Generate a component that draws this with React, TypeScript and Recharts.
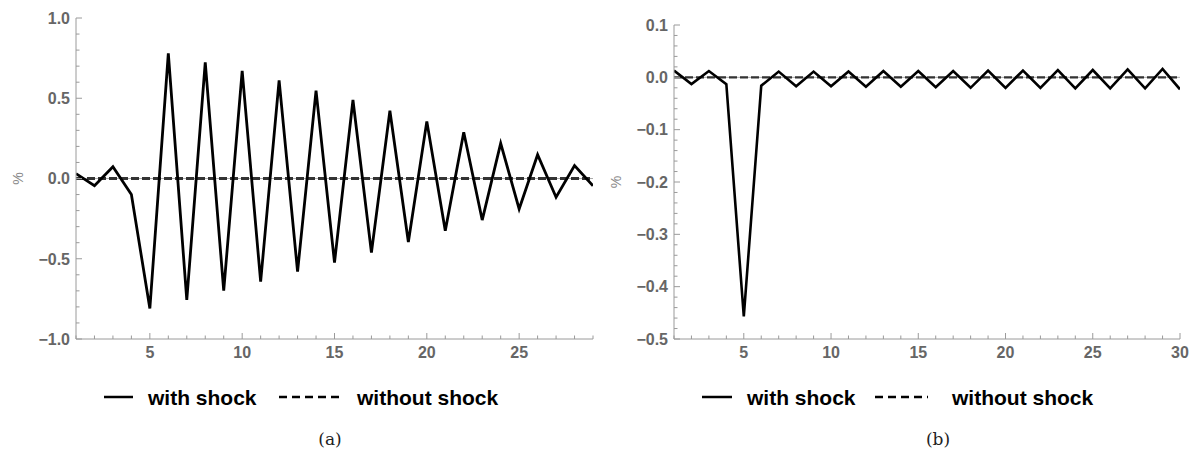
import React from 'react';
import { LineChart, Line, XAxis, YAxis, ReferenceLine } from 'recharts';

// ---- panel (a) ----
const periodsA = [1, 2, 3, 4, 5, 6, 7, 8, 9, 10, 11, 12, 13, 14, 15, 16, 17, 18, 19, 20, 21, 22, 23, 24, 25, 26, 27, 28, 29];
const withShockA = [
  0.03, -0.045, 0.073, -0.1, -0.81, 0.78, -0.757, 0.724, -0.699, 0.67, -0.643, 0.612, -0.58, 0.547, -0.524,
  0.489, -0.462, 0.422, -0.396, 0.356, -0.325, 0.288, -0.259, 0.219, -0.19, 0.148, -0.117, 0.08, -0.045,
];
const withoutShockA = [0, 0, 0, 0, 0, 0, 0, 0, 0, 0, 0, 0, 0, 0, 0, 0, 0, 0, 0, 0, 0, 0, 0, 0, 0, 0, 0, 0, 0];
const xTicksA = [1, 2, 3, 4, 5, 6, 7, 8, 9, 10, 11, 12, 13, 14, 15, 16, 17, 18, 19, 20, 21, 22, 23, 24, 25, 26, 27, 28, 29];
const xMajorA = [5, 10, 15, 20, 25];
const yTicksA = [-1, -0.9, -0.8, -0.7, -0.6, -0.5, -0.4, -0.3, -0.2, -0.1, 0, 0.1, 0.2, 0.3, 0.4, 0.5, 0.6, 0.7, 0.8, 0.9, 1];
const yMajorA = [-1, -0.5, 0, 0.5, 1];

// ---- panel (b) ----
const periodsB = [1, 2, 3, 4, 5, 6, 7, 8, 9, 10, 11, 12, 13, 14, 15, 16, 17, 18, 19, 20, 21, 22, 23, 24, 25, 26, 27, 28, 29, 30];
const withShockB = [
  0.013, -0.013, 0.012, -0.013, -0.457, -0.016, 0.011, -0.017, 0.011, -0.017, 0.011, -0.018, 0.012, -0.018, 0.012,
  -0.019, 0.012, -0.02, 0.013, -0.02, 0.013, -0.02, 0.014, -0.021, 0.014, -0.021, 0.015, -0.021, 0.016, -0.023,
];
const withoutShockB = [0, 0, 0, 0, 0, 0, 0, 0, 0, 0, 0, 0, 0, 0, 0, 0, 0, 0, 0, 0, 0, 0, 0, 0, 0, 0, 0, 0, 0, 0];
const xTicksB = [1, 2, 3, 4, 5, 6, 7, 8, 9, 10, 11, 12, 13, 14, 15, 16, 17, 18, 19, 20, 21, 22, 23, 24, 25, 26, 27, 28, 29, 30];
const xMajorB = [5, 10, 15, 20, 25, 30];
const yTicksB = [
  -0.5, -0.48, -0.46, -0.44, -0.42, -0.4, -0.38, -0.36, -0.34, -0.32, -0.3, -0.28, -0.26, -0.24, -0.22, -0.2,
  -0.18, -0.16, -0.14, -0.12, -0.1, -0.08, -0.06, -0.04, -0.02, 0, 0.02, 0.04, 0.06, 0.08, 0.1,
];
const yMajorB = [-0.5, -0.4, -0.3, -0.2, -0.1, 0, 0.1];

const FRAME = '#9a9a9a';
const LABEL = '#666';
const SANS = '"Liberation Sans", Arial, sans-serif';

const fmtY = (v: number) => {
  const s = Math.abs(v) < 1e-9 ? '0.0' : v.toFixed(1);
  return s.replace('-', '\u2212');
};
const fmtX = (v: number) => String(v);

type Side = 'left' | 'right' | 'top' | 'bottom';

// Mathematica-style ticks: drawn inward, labels only on major ones (left/bottom)
function makeTick(side: Side, majors: number[], fmt?: (v: number) => string) {
  return (props: any) => {
    const { x, y, payload } = props;
    const v = payload.value as number;
    const isMajor = majors.some((m) => Math.abs(m - v) < 1e-9);
    const len = isMajor ? 6 : 3.5;
    let line;
    if (side === 'left') line = <line x1={x} x2={x + len} y1={y} y2={y} stroke={FRAME} />;
    else if (side === 'right') line = <line x1={x} x2={x - len} y1={y} y2={y} stroke={FRAME} />;
    else if (side === 'top') line = <line x1={x} x2={x} y1={y} y2={y + len} stroke={FRAME} />;
    else line = <line x1={x} x2={x} y1={y} y2={y - len} stroke={FRAME} />;
    let label = null;
    if (isMajor && fmt && side === 'left') {
      label = (
        <text x={x - 6} y={y} dy="0.36em" textAnchor="end" fontFamily={SANS} fontWeight="bold" fontSize={16} fill={LABEL}>
          {fmt(v)}
        </text>
      );
    }
    if (isMajor && fmt && side === 'bottom') {
      label = (
        <text x={x} y={y + 19} textAnchor="middle" fontFamily={SANS} fontWeight="bold" fontSize={16} fill={LABEL}>
          {fmt(v)}
        </text>
      );
    }
    return (
      <g>
        {line}
        {label}
      </g>
    );
  };
}

const percentLabel = (offset: number) => (props: any) => {
  const vb = props.viewBox || {};
  const cx = (vb.x || 0) + offset;
  const cy = (vb.y || 0) + (vb.height || 0) / 2;
  return (
    <text x={cx} y={cy} transform={`rotate(-90 ${cx} ${cy})`} textAnchor="middle" dy="0.35em" fontFamily={SANS} fontSize={14} fill="#888">
      %
    </text>
  );
};

interface PanelProps {
  periods: number[];
  withShock: number[];
  withoutShock: number[];
  xTicks: number[];
  xMajor: number[];
  yTicks: number[];
  yMajor: number[];
  xDomain: [number, number];
  yDomain: [number, number];
  width: number;
  margin: { top: number; right: number; bottom: number; left: number };
  yAxisWidth: number;
  labelOffset: number;
  dashWidth: number;
  solidWidth: number;
}

function Panel(p: PanelProps) {
  const data = p.periods.map((t, i) => ({ t, withShock: p.withShock[i], withoutShock: p.withoutShock[i] }));
  return (
    <LineChart width={p.width} height={360} data={data} margin={p.margin}>
      <XAxis
        dataKey="t"
        type="number"
        domain={p.xDomain}
        ticks={p.xTicks}
        interval={0}
        allowDataOverflow
        height={21}
        tickSize={0}
        tickMargin={0}
        tickLine={false}
        axisLine={{ stroke: FRAME }}
        tick={makeTick('bottom', p.xMajor, fmtX)}
      />
      <XAxis
        xAxisId="top"
        orientation="top"
        dataKey="t"
        type="number"
        domain={p.xDomain}
        ticks={p.xTicks}
        interval={0}
        allowDataOverflow
        height={0}
        tickSize={0}
        tickMargin={0}
        tickLine={false}
        axisLine={{ stroke: FRAME }}
        tick={makeTick('top', p.xMajor)}
      />
      <YAxis
        type="number"
        domain={p.yDomain}
        ticks={p.yTicks}
        interval={0}
        allowDataOverflow
        width={p.yAxisWidth}
        tickSize={0}
        tickMargin={0}
        tickLine={false}
        axisLine={{ stroke: FRAME }}
        tick={makeTick('left', p.yMajor, fmtY)}
        label={{ content: percentLabel(p.labelOffset) }}
      />
      <YAxis
        yAxisId="right"
        orientation="right"
        type="number"
        domain={p.yDomain}
        ticks={p.yTicks}
        interval={0}
        allowDataOverflow
        width={0}
        tickSize={0}
        tickMargin={0}
        tickLine={false}
        axisLine={{ stroke: FRAME }}
        tick={makeTick('right', p.yMajor)}
      />
      <ReferenceLine y={0} stroke="#aaa" strokeWidth={1} />
      <Line
        dataKey="withoutShock"
        name="without shock"
        stroke="#333"
        strokeWidth={p.dashWidth}
        strokeDasharray="8 3"
        dot={false}
        isAnimationActive={false}
      />
      <Line
        dataKey="withShock"
        name="with shock"
        stroke="#000"
        strokeWidth={p.solidWidth}
        dot={false}
        isAnimationActive={false}
        strokeLinejoin="miter"
      />
    </LineChart>
  );
}

function LegendRow({ x0, solidLen, textGap, dashStart, dashLen, text2 }: any) {
  const y = 397;
  return (
    <g>
      <line x1={x0} x2={x0 + solidLen} y1={y} y2={y} stroke="#000" strokeWidth={2.5} />
      <text x={x0 + solidLen + textGap} y={y + 7.5} fontFamily={SANS} fontWeight="bold" fontSize={21} fill="#000">
        with shock
      </text>
      <line x1={dashStart} x2={dashStart + dashLen} y1={y} y2={y} stroke="#000" strokeWidth={2.5} strokeDasharray="8 5" />
      <text x={text2} y={y + 7.5} fontFamily={SANS} fontWeight="bold" fontSize={21} fill="#000">
        without shock
      </text>
    </g>
  );
}

export default function App() {
  return (
    <div style={{ position: 'absolute', left: 0, top: 0, width: 1189, height: 451, background: '#fff', overflow: 'hidden' }}>
      <div style={{ position: 'absolute', left: 0, top: 0 }}>
        <Panel
          periods={periodsA}
          withShock={withShockA}
          withoutShock={withoutShockA}
          xTicks={xTicksA}
          xMajor={xMajorA}
          yTicks={yTicksA}
          yMajor={yMajorA}
          xDomain={[1, 29]}
          yDomain={[-1, 1]}
          width={600}
          margin={{ top: 18, right: 7, bottom: 0, left: 0 }}
          yAxisWidth={76}
          labelOffset={18}
          dashWidth={3}
          solidWidth={2.8}
        />
      </div>
      <div style={{ position: 'absolute', left: 600, top: 0 }}>
        <Panel
          periods={periodsB}
          withShock={withShockB}
          withoutShock={withoutShockB}
          xTicks={xTicksB}
          xMajor={xMajorB}
          yTicks={yTicksB}
          yMajor={yMajorB}
          xDomain={[1, 30]}
          yDomain={[-0.5, 0.1]}
          width={589}
          margin={{ top: 25, right: 9, bottom: 0, left: 0 }}
          yAxisWidth={74}
          labelOffset={16}
          dashWidth={2.2}
          solidWidth={2.6}
        />
      </div>
      <svg width={1189} height={451} style={{ position: 'absolute', left: 0, top: 0, pointerEvents: 'none' }}>
        <LegendRow x0={104} solidLen={29} textGap={15} dashStart={279} dashLen={61} text2={357} />
        <LegendRow x0={702} solidLen={30} textGap={15} dashStart={875} dashLen={53} text2={952} />
        <text x={330} y={445} textAnchor="middle" fontFamily='"DejaVu Serif", "Liberation Serif", serif' fontSize={17} fill="#222">
          (a)
        </text>
        <text x={938} y={445} textAnchor="middle" fontFamily='"DejaVu Serif", "Liberation Serif", serif' fontSize={17} fill="#222">
          (b)
        </text>
      </svg>
    </div>
  );
}
